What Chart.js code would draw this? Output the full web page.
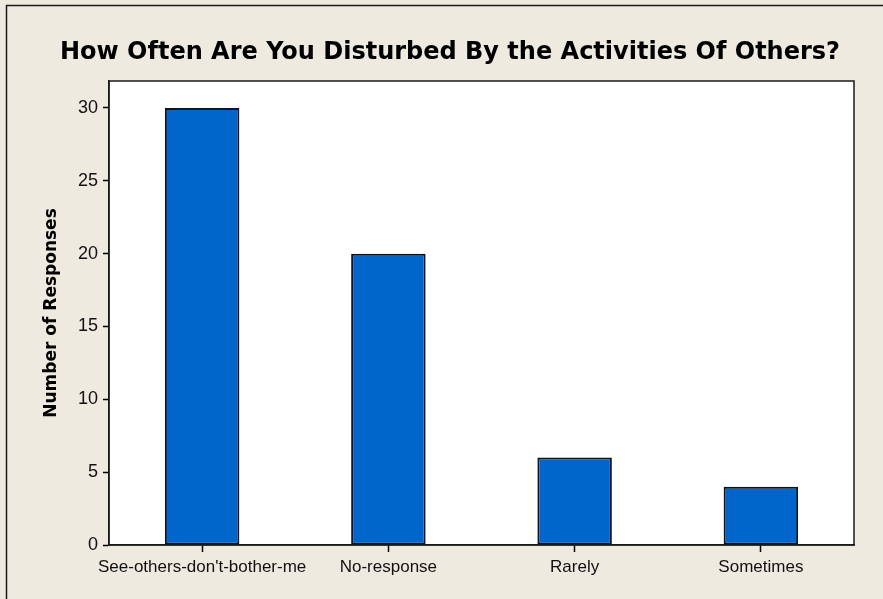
<!DOCTYPE html>
<html>
<head>
<meta charset="utf-8">
<script src="https://cdn.jsdelivr.net/npm/chart.js@4.4.1/dist/chart.umd.min.js"></script>
<style>
    html, body { margin: 0; padding: 0; background: #eeeae0; }
    canvas { display: block; }
</style>
</head>
<body>
<canvas id="barChart" width="883" height="599"></canvas>
<script>
// Chart data
const chartTitle = 'How Often Are You Disturbed By the Activities Of Others?';
const categories = ["See-others-don't-bother-me", 'No-response', 'Rarely', 'Sometimes'];
const responses = [30, 20, 6, 4];
const yTicks = [0, 5, 10, 15, 20, 25, 30];
const yLabel = 'Number of Responses';

// Beige frame, white plot area and the title (drawn before the chart)
const framePlugin = {
    id: 'frame',
    beforeDraw(chart) {
        const { ctx, chartArea: a, width, height } = chart;
        ctx.save();
        ctx.fillStyle = '#eeeae0';
        ctx.fillRect(0, 0, width, height);

        ctx.strokeStyle = '#1a1a1a';
        ctx.lineWidth = 1.5;
        ctx.beginPath();
        ctx.moveTo(6.5, height);
        ctx.lineTo(6.5, 5.5);
        ctx.lineTo(width, 5.5);
        ctx.stroke();

        ctx.fillStyle = '#ffffff';
        ctx.fillRect(a.left, a.top, a.right - a.left, a.bottom - a.top);

        ctx.fillStyle = '#000000';
        ctx.font = 'bold 24px "DejaVu Sans"';
        ctx.textAlign = 'center';
        ctx.textBaseline = 'alphabetic';
        ctx.fillText(chartTitle, 450, 59);
        ctx.restore();
    },
    afterDraw(chart) {
        const { ctx, chartArea: a } = chart;
        ctx.save();
        ctx.strokeStyle = '#1a1a1a';
        ctx.lineWidth = 1.5;
        ctx.strokeRect(a.left, a.top, a.right - a.left, a.bottom - a.top);
        ctx.restore();
    }
};

const ctx = document.getElementById('barChart').getContext('2d');

new Chart(ctx, {
    type: 'bar',
    data: {
        labels: categories,
        datasets: [{
            data: responses,
            backgroundColor: '#0066cc',
            borderColor: '#0a1420',
            borderWidth: 2,
            borderSkipped: false,
            barPercentage: 0.8,
            categoryPercentage: 0.5
        }]
    },
    options: {
        responsive: false,
        animation: false,
        layout: { padding: { top: 81, right: 29, bottom: 0, left: 0 } },
        plugins: {
            legend: { display: false },
            title: { display: false },
            tooltip: { enabled: false }
        },
        scales: {
            x: {
                offset: true,
                afterFit: s => { s.height = 54; },
                grid: { drawOnChartArea: false, offset: false, tickLength: 7, tickColor: '#000', tickWidth: 1.5 },
                border: { color: '#1a1a1a', width: 1.5 },
                ticks: {
                    padding: 5,
                    color: '#111',
                    maxRotation: 0,
                    autoSkip: false,
                    font: { family: 'Liberation Sans', size: 17 }
                }
            },
            y: {
                min: 0,
                max: 31.85,
                afterBuildTicks: s => { s.ticks = yTicks.map(v => ({ value: v })); },
                afterFit: s => { s.width = 109; },
                grid: { drawOnChartArea: false, tickLength: 6, tickColor: '#000', tickWidth: 1.5 },
                border: { color: '#1a1a1a', width: 1.5 },
                ticks: {
                    padding: 5,
                    color: '#111',
                    font: { family: 'Liberation Sans', size: 18 }
                },
                title: {
                    display: true,
                    text: yLabel,
                    color: '#000',
                    font: { family: 'DejaVu Sans', size: 17, weight: 'bold' },
                    padding: { top: 41, bottom: 0 }
                }
            }
        }
    },
    plugins: [framePlugin]
});
</script>
</body>
</html>
